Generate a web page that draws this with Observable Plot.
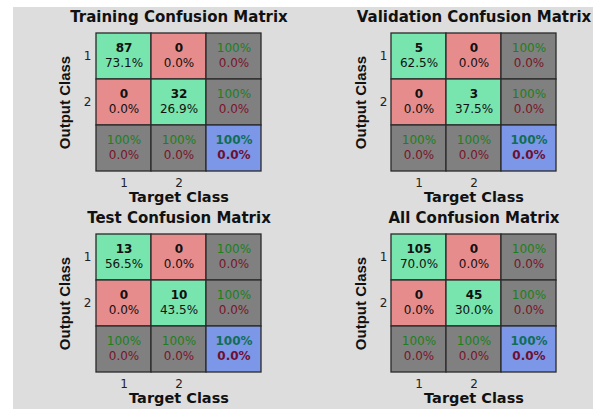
<!DOCTYPE html>
<html><head><meta charset="utf-8">
<script src="https://cdn.jsdelivr.net/npm/d3@7"></script>
<script src="https://cdn.jsdelivr.net/npm/@observablehq/plot@0.6"></script>
<style>
html,body{margin:0;padding:0;background:#fff;}
#bg{position:absolute;left:13px;top:7px;width:580px;height:402px;background:#dddddd;}
.panel{position:absolute;}
</style></head><body>
<div id="bg"></div>
<script>
// ---- data ----
const titles = ["Training Confusion Matrix", "Validation Confusion Matrix", "Test Confusion Matrix", "All Confusion Matrix"];
const classLabels = [1, 2];
// counts row-major: (out1,tgt1), (out1,tgt2), (out2,tgt1), (out2,tgt2)
const trainingCounts = [87, 0, 0, 32];
const trainingPercents = ["73.1%", "0.0%", "0.0%", "26.9%"];
const validationCounts = [5, 0, 0, 3];
const validationPercents = ["62.5%", "0.0%", "0.0%", "37.5%"];
const testCounts = [13, 0, 0, 10];
const testPercents = ["56.5%", "0.0%", "0.0%", "43.5%"];
const allCounts = [105, 0, 0, 45];
const allPercents = ["70.0%", "0.0%", "0.0%", "30.0%"];
// summary cells (per class accuracy / error) and overall
const outputAccuracy = ["100%", "100%"];
const outputError = ["0.0%", "0.0%"];
const targetAccuracy = ["100%", "100%"];
const targetError = ["0.0%", "0.0%"];
const overallAccuracy = "100%";
const overallError = "0.0%";

const cellColors = {hit: "#78e4ae", miss: "#e68c8c", summary: "#808080", overall: "#7c96e8"};

function makeCells(counts, percents) {
  const cells = [];
  for (let r = 1; r <= 2; r++) {
    for (let c = 1; c <= 2; c++) {
      const i = (r - 1) * 2 + (c - 1);
      cells.push({row: r, col: c, kind: r === c ? "hit" : "miss", top: String(counts[i]), bottom: percents[i]});
    }
    cells.push({row: r, col: 3, kind: "summary", top: outputAccuracy[r - 1], bottom: outputError[r - 1]});
  }
  for (let c = 1; c <= 2; c++) {
    cells.push({row: 3, col: c, kind: "summary", top: targetAccuracy[c - 1], bottom: targetError[c - 1]});
  }
  cells.push({row: 3, col: 3, kind: "overall", top: overallAccuracy, bottom: overallError});
  return cells;
}

const FONT = "'DejaVu Sans', sans-serif";

function matrixPlot(title, cells, m) {
  const main = cells.filter(d => d.kind === "hit" || d.kind === "miss");
  const summ = cells.filter(d => d.kind === "summary");
  const over = cells.filter(d => d.kind === "overall");
  return Plot.plot({
    width: 296, height: m.h,
    marginLeft: m.l, marginRight: 296 - m.l - 165, marginTop: m.t, marginBottom: m.h - m.t - 140,
    style: "background: transparent; overflow: visible; font-family: 'DejaVu Sans', sans-serif;",
    x: {type: "band", domain: [1, 2, 3], padding: 0},
    y: {type: "band", domain: [1, 2, 3], padding: 0},
    color: {type: "identity"},
    marks: [
      Plot.cell(cells, {x: "col", y: "row", fill: d => cellColors[d.kind], stroke: "#2a2a2a", strokeWidth: 1.3}),
      Plot.text(main, {x: "col", y: "row", text: "top", dy: -8, fontWeight: "bold", fill: "#111", fontSize: 12, fontFamily: FONT}),
      Plot.text(main, {x: "col", y: "row", text: "bottom", dy: 7, fill: "#111", fontSize: 12, fontFamily: FONT}),
      Plot.text(summ, {x: "col", y: "row", text: "top", dy: -8, fill: "#1c7f1c", fontSize: 12, fontFamily: FONT}),
      Plot.text(summ, {x: "col", y: "row", text: "bottom", dy: 7, fill: "#7a1428", fontSize: 12, fontFamily: FONT}),
      Plot.text(over, {x: "col", y: "row", text: "top", dy: -8, fill: "#0f6e55", fontWeight: "bold", fontSize: 12, fontFamily: FONT}),
      Plot.text(over, {x: "col", y: "row", text: "bottom", dy: 7, fill: "#6e1030", fontWeight: "bold", fontSize: 12, fontFamily: FONT}),
      Plot.axisX({ticks: classLabels, tickSize: 0, tickPadding: 6, fontSize: 12, label: null, fill: "#222", fontFamily: FONT}),
      Plot.axisY({ticks: classLabels, tickSize: 0, tickPadding: m.tp, fontSize: 12, label: null, fill: "#222", fontFamily: FONT}),
      Plot.text([title], {text: d => d, frameAnchor: "top", lineAnchor: "middle", dy: -15, fontWeight: "bold", fontSize: 15, fill: "#111", fontFamily: FONT}),
      Plot.text(["Target Class"], {text: d => d, frameAnchor: "bottom", lineAnchor: "middle", dy: 25, fontWeight: "bold", fontSize: 14.5, fill: "#111", fontFamily: FONT}),
      Plot.text(["Output Class"], {text: d => d, frameAnchor: "left", lineAnchor: "middle", dx: m.ox, rotate: -90, textAnchor: "middle", fontWeight: "bold", fontSize: 15, fill: "#111", fontFamily: "'Liberation Sans', Arial, sans-serif"})
    ]
  });
}

const datasets = [
  [trainingCounts, trainingPercents],
  [validationCounts, validationPercents],
  [testCounts, testPercents],
  [allCounts, allPercents]
];
const layouts = [
  {left: 0, top: 0, h: 205, l: 96, t: 32, ox: -31, tp: 5},
  {left: 296, top: 0, h: 205, l: 95, t: 32, ox: -30, tp: 4},
  {left: 0, top: 200, h: 209, l: 96, t: 33, ox: -31, tp: 5},
  {left: 296, top: 200, h: 209, l: 95, t: 33, ox: -30, tp: 4}
];
datasets.forEach(([counts, pcts], i) => {
  const m = layouts[i];
  const svg = matrixPlot(titles[i], makeCells(counts, pcts), m);
  const wrap = document.createElement("div");
  wrap.className = "panel";
  wrap.style.left = m.left + "px";
  wrap.style.top = m.top + "px";
  wrap.appendChild(svg);
  document.body.appendChild(wrap);
});
</script>
</body></html>
